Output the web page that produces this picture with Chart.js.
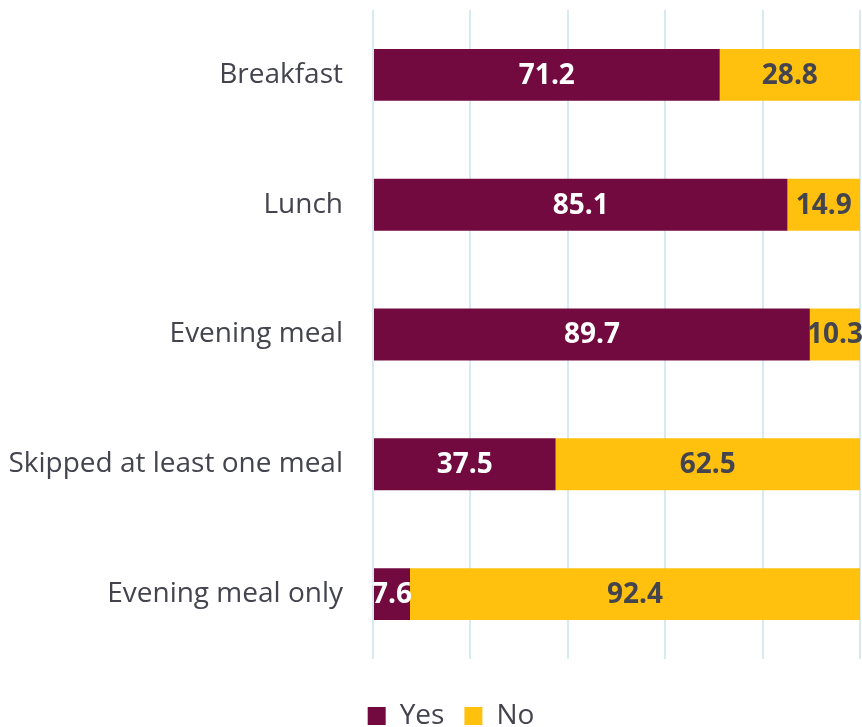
<!DOCTYPE html>
<html>
<head>
<meta charset="utf-8">
<script src="https://cdn.jsdelivr.net/npm/chart.js@4.4.1/dist/chart.umd.min.js"></script>
<style>
html,body{margin:0;padding:0;background:#fff;}
#wrap{width:862px;height:727px;position:relative;}
</style>
</head>
<body>
<div id="wrap"><canvas id="c" width="862" height="727"></canvas></div>
<script>
const categories = ["Breakfast", "Lunch", "Evening meal", "Skipped at least one meal", "Evening meal only"];
const yesValues = [71.2, 85.1, 89.7, 37.5, 7.6];
const noValues = [28.8, 14.9, 10.3, 62.5, 92.4];
const seriesNames = ["Yes", "No"];

const MAROON = "#720A3F";
const YELLOW = "#FFC10E";
const FONT = "'Open Sans', sans-serif";

const labelPlugin = {
  id: "barLabels",
  afterLayout(chart) {
    const lg = chart.legend;
    if (lg) {
      lg.left += 18; lg.right += 18;
      lg.top += 23; lg.bottom += 23;
    }
  },
  afterDatasetsDraw(chart) {
    const ctx = chart.ctx;
    ctx.save();
    ctx.font = "bold 28px " + FONT;
    ctx.textAlign = "center";
    ctx.textBaseline = "middle";
    chart.data.datasets.forEach((ds, di) => {
      const meta = chart.getDatasetMeta(di);
      meta.data.forEach((bar, i) => {
        const v = ds.data[i];
        const cx = (bar.x + bar.base) / 2;
        ctx.fillStyle = di === 0 ? "#ffffff" : "#44444F";
        ctx.fillText(v.toFixed(1), cx, bar.y + 1);
      });
    });
    ctx.restore();
  }
};

new Chart(document.getElementById("c"), {
  type: "bar",
  data: {
    labels: categories,
    datasets: [
      { label: seriesNames[0], data: yesValues, backgroundColor: MAROON, barPercentage: 0.4, categoryPercentage: 1.0 },
      { label: seriesNames[1], data: noValues, backgroundColor: YELLOW, barPercentage: 0.4, categoryPercentage: 1.0 }
    ]
  },
  options: {
    indexAxis: "y",
    responsive: false,
    animation: false,
    layout: { padding: { left: 6, right: 2, top: 10, bottom: 10 } },
    scales: {
      x: {
        stacked: true,
        min: 0, max: 100,
        ticks: { display: false, stepSize: 20 },
        grid: { color: "#D6EAF0", lineWidth: 2, drawTicks: false },
        border: { display: false },
        afterFit(s) { s.height = 0; s.paddingLeft = 0; s.paddingRight = 0; }
      },
      y: {
        stacked: true,
        grid: { display: false, drawTicks: false },
        border: { display: false },
        ticks: { color: "#44444F", font: { family: FONT, size: 28 }, padding: 30 },
        afterFit(s) { s.width = 367; s.paddingTop = 0; s.paddingBottom = 0; }
      }
    },
    plugins: {
      legend: {
        position: "bottom",
        labels: {
          color: "#44444F",
          font: { family: FONT, size: 28 },
          boxWidth: 18, boxHeight: 18,
          padding: 20
        }
      },
      tooltip: { enabled: false }
    }
  },
  plugins: [labelPlugin]
});
</script>
</body>
</html>
